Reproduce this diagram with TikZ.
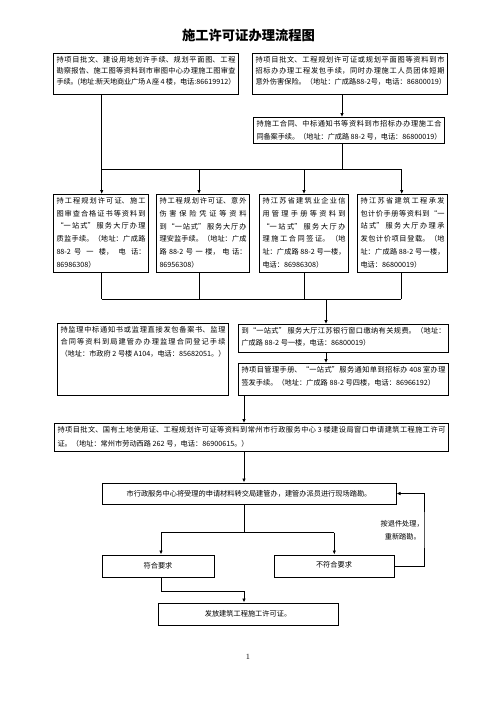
\documentclass[tikz,border=0pt]{standalone}
\usepackage{fontspec}
\newfontfamily\cjk{Noto Sans CJK SC}
\usetikzlibrary{arrows.meta}
\XeTeXlinebreaklocale "zh"
\XeTeXlinebreakskip=0pt plus 3pt minus 0.3pt
\tolerance=10000
\hbadness=10000
\hfuzz=8pt
\newcommand\bxt[4]{\parbox[c][#2][t]{#1}{\fontsize{7.2}{#3}\selectfont #4}}
\tikzset{
  bx/.style={draw, line width=1pt, anchor=north west, inner xsep=3pt, inner ysep=3pt, font=\cjk\fontsize{7.2}{11}\selectfont},
  sb/.style={draw, line width=1pt, inner sep=0pt, font=\cjk\fontsize{7.2}{9}\selectfont},
  lab/.style={inner sep=0pt, font=\cjk\fontsize{7.2}{9}\selectfont},
  ln/.style={line width=0.8pt},
  arr/.style={ln, -{Latex[length=4pt,width=3.5pt]}},
}
\begin{document}
\begin{tikzpicture}[x=1pt,y=-1pt]
\useasboundingbox (0,0) rectangle (496,702);
\node[inner sep=0pt, font=\cjk\bfseries\fontsize{13.3}{14}\selectfont] (title) at (248.5,35) {施工许可证办理流程图};

\node[bx] (A) at (53,53) {\bxt{179pt}{35pt}{11pt}{持项目批文、建设用地划许手续、规划平面图、工程\linebreak 勘察报告、施工图等资料到市审图中心办理施工图审查\linebreak 手续。(地址:新天地商业广场 A 座 4 楼，电话:86619912）}};
\node[bx] (B) at (252,53) {\bxt{189pt}{35pt}{11pt}{持项目批文、工程规划许可证或规划平面图等资料到市\linebreak 招标办办理工程发包手续，同时办理施工人员团体短期\linebreak \mbox{意外伤害保险。（地址：广成路88-2号，电话：86800019）}}};
\node[bx] (C) at (253,117) {\bxt{185pt}{20pt}{12.4pt}{持施工合同、中标通知书等资料到市招标办办理施工合\linebreak 同备案手续。（地址：广成路 88-2 号，电话：86800019）}};

\node[bx] (R1) at (53,194) {\bxt{89pt}{72pt}{12.7pt}{持工程规划许可证、施工\linebreak 图审查合格证书等资料到\linebreak “一站式” 服务大厅办理\linebreak 质监手续。（地址：广成路\linebreak 88-2 号一楼，电话：\linebreak 86986308）}};
\node[bx] (R2) at (156,194) {\bxt{87pt}{72pt}{12.7pt}{持工程规划许可证、意外\linebreak 伤害保险凭证等资料\linebreak 到“一站式” 服务大厅办\linebreak 理安监手续。（地址：广成\linebreak 路 88-2 号一楼，电话：\linebreak 86956308）}};
\node[bx] (R3) at (259,194) {\bxt{83pt}{72pt}{12.7pt}{持江苏省建筑业企业信\linebreak 用管理手册等资料到\linebreak “一站式” 服务大厅办\linebreak 理施工合同签证。（地\linebreak 址：广成路 88-2 号一楼，\linebreak 电话：86986308）}};
\node[bx] (R4) at (357,194) {\bxt{84pt}{72pt}{12.7pt}{持江苏省建筑工程承发\linebreak 包计价手册等资料到“一\linebreak 站式” 服务大厅办理承\linebreak 发包计价项目登载。（地\linebreak 址：广成路 88-2 号一楼，\linebreak 电话：86800019）}};

\node[bx] (D) at (57,323) {\bxt{165pt}{66pt}{11.8pt}{持监理中标通知书或监理直接发包备案书、监理\linebreak 合同等资料到局建管办办理监理合同登记手续\linebreak （地址：市政府 2 号楼 A104，电话：85682051。）}};
\node[bx] (E) at (238,324) {\bxt{204pt}{22pt}{12.3pt}{到“一站式” 服务大厅江苏银行窗口缴纳有关规费。（地址：\linebreak 广成路 88-2 号一楼，电话：86800019）}};
\node[bx] (F) at (238,363) {\bxt{204pt}{26pt}{13pt}{持项目管理手册、“一站式”服务通知单到招标办 408 室办理\linebreak 签发手续。（地址：广成路 88-2 号四楼，电话：86966192）}};

\node[bx] (G) at (54,423) {\bxt{388pt}{22pt}{14pt}{持项目批文、国有土地使用证、工程规划许可证等资料到常州市行政服务中心 3 楼建设局窗口申请建筑工程施工许可\linebreak 证。（地址：常州市劳动西路 262 号，电话：86900615。）}};

\node[sb, minimum width=294pt, minimum height=21pt] (H) at (249,493.5) {市行政服务中心将受理的申请材料转交局建管办，建管办派员进行现场踏勘。};
\node[sb, minimum width=112pt, minimum height=22pt] (I) at (158,566) {符合要求};
\node[sb, minimum width=120pt, minimum height=22pt, text depth=4pt] (J) at (334,566) {不符合要求};
\node[sb, minimum width=180pt, minimum height=22pt] (K) at (248,614) {发放建筑工程施工许可证。};

\node[lab, anchor=east] (L1) at (424,524) {按退件处理，};
\node[lab, anchor=east] (L2) at (421,537) {重新踏勘。};
\node[inner sep=0pt, font=\fontsize{8}{9}\selectfont] (pg) at (248,657) {1};

% connectors top
\coordinate (t1) at (101.7,169);
\coordinate (t2) at (199,169);
\coordinate (t3) at (304,169);
\coordinate (t4) at (401.7,169);
\coordinate (tc) at (342,169);
\draw[ln] (A.south -| t1) -- (t1);
\draw[ln] (t1) -- (t4);
\draw[arr] (B.south -| tc) -- (C.north -| tc);
\draw[ln] (C.south -| tc) -- (tc);
\draw[arr] (t1) -- (R1.north -| t1);
\draw[arr] (t2) -- (R2.north -| t2);
\draw[arr] (t3) -- (R3.north -| t3);
\draw[arr] (t4) -- (R4.north -| t4);

% bottom bus
\coordinate (b1) at (101.7,299);
\coordinate (b2) at (199.3,299);
\coordinate (b3) at (304.3,299);
\coordinate (b4) at (401,299);
\coordinate (bm) at (326,299);
\draw[ln] (R1.south -| b1) -- (b1);
\draw[ln] (R2.south -| b2) -- (b2);
\draw[ln] (R3.south -| b3) -- (b3);
\draw[ln] (R4.south -| b4) -- (b4);
\draw[ln] (b1) -- (b4);
\draw[arr] (bm) -- (E.north -| bm);
\draw[arr] (E.south -| bm) -- (F.north -| bm);

% lower part
\coordinate (gx) at (244,409);
\draw[arr] (F.south -| gx) -- (G.north -| gx);
\draw[arr] (G.south -| gx) -- (H.north -| gx);
\coordinate (s) at (244,532.7);
\coordinate (sI) at (161,532.7);
\coordinate (sJ) at (334.3,532.7);
\draw[ln] (H.south -| s) -- (s);
\draw[ln] (sI) -- (sJ);
\draw[arr] (sI) -- (I.north -| sI);
\draw[arr] (sJ) -- (J.north -| sJ);
\coordinate (fb) at (424,530);
\draw[arr] (J.east) -| (fb) |- (H.east);
\coordinate (k1) at (161,591);
\coordinate (k2) at (244,591);
\draw[arr] (I.south -| k1) -- (k1) -- (k2) -- (K.north -| k2);
\end{tikzpicture}
\end{document}
